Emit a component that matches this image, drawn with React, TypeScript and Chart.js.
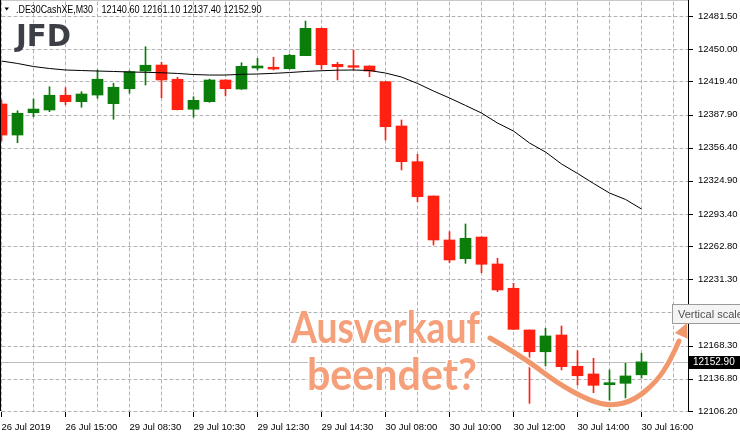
import React, { useEffect, useRef } from 'react';
import { Chart, registerables } from 'chart.js';

Chart.register(...registerables);

// ---- data ----
const opens = [12397.9, 12368.4, 12389.6, 12392.2, 12406.2, 12400.1, 12406.4, 12398.2, 12412.4, 12429.2, 12434.9, 12421.4, 12392.9, 12400.1, 12420.7, 12412.1, 12432.1, 12432.8, 12431.4, 12443.8, 12469.8, 12435.6, 12434.3, 12434.0, 12419.1, 12377.0, 12343.1, 12310.5, 12268.7, 12250.9, 12271.5, 12245.9, 12222.8, 12183.2, 12162.5, 12178.4, 12148.7, 12141.4, 12131.2, 12132.5, 12140.6];
const highs = [12401.7, 12391.5, 12402.6, 12414.3, 12413.4, 12409.6, 12430.2, 12417.6, 12429.5, 12452.3, 12437.5, 12423.3, 12404.8, 12421.5, 12420.9, 12437.1, 12441.3, 12442.3, 12445.1, 12476.7, 12470.1, 12437.5, 12449.2, 12434.2, 12419.3, 12382.7, 12350.1, 12310.5, 12276.6, 12283.9, 12271.6, 12251.3, 12227.5, 12183.2, 12184.8, 12187.0, 12163.5, 12156.3, 12145.2, 12151.5, 12161.1];
const lows = [12362.7, 12361.1, 12385.8, 12390.6, 12397.2, 12394.8, 12403.3, 12383.4, 12408.1, 12415.9, 12403.9, 12392.2, 12385.3, 12399.5, 12405.5, 12411.7, 12430.2, 12430.2, 12431.1, 12443.8, 12430.9, 12420.7, 12430.2, 12423.8, 12363.7, 12335.2, 12305.1, 12263.9, 12247.1, 12246.5, 12237.6, 12219.6, 12183.6, 12113.5, 12149.0, 12145.2, 12130.9, 12123.6, 12107.2, 12115.0, 12137.4];
const closes = [12368.4, 12389.1, 12393.1, 12406.2, 12400.1, 12407.4, 12421.4, 12413.8, 12428.6, 12434.7, 12420.7, 12392.5, 12401.4, 12420.7, 12412.4, 12433.7, 12434.0, 12431.1, 12444.2, 12469.8, 12435.2, 12433.3, 12432.8, 12429.2, 12376.3, 12343.1, 12309.8, 12268.7, 12249.7, 12270.3, 12245.6, 12221.2, 12183.8, 12162.5, 12177.5, 12148.3, 12139.7, 12130.6, 12133.1, 12139.5, 12152.9];
const maValues = [12438.7, 12436.4, 12433.5, 12431.6, 12430.2, 12429.7, 12429.2, 12428.8, 12428.3, 12428.0, 12427.6, 12426.9, 12425.9, 12425.4, 12425.4, 12426.1, 12426.4, 12427.0, 12427.8, 12428.8, 12429.5, 12430.0, 12430.2, 12429.7, 12427.3, 12423.5, 12417.4, 12410.2, 12403.6, 12396.5, 12389.3, 12379.8, 12372.2, 12360.8, 12352.3, 12340.9, 12331.9, 12322.4, 12313.3, 12307.2, 12298.1];
const yTickValues = [12481.5, 12450.0, 12419.4, 12387.9, 12356.4, 12324.9, 12293.4, 12262.8, 12231.3, 12199.8, 12168.3, 12136.8, 12106.2];
const xGridIndices = [0, 2, 4, 6, 8, 10, 12, 14, 16, 18, 20, 22, 24, 26, 28, 30, 32, 34, 36, 38, 40, 42];
const xTickLabels = ['26 Jul 2019', '26 Jul 15:00', '29 Jul 08:30', '29 Jul 10:30', '29 Jul 12:30', '29 Jul 14:30', '30 Jul 08:00', '30 Jul 10:00', '30 Jul 12:00', '30 Jul 14:00', '30 Jul 16:00'];
const bidPrice = 12152.9;
const symbolText = '.DE30CashXE,M30';
const ohlcText = '12140.60 12161.10 12137.40 12152.90';
const annotationLines = ['Ausverkauf', 'beendet?'];

const BULL = '#0b7d0b';
const BEAR = '#fe2010';
const GRID = '#b2b2b2';
const FONT = "'Liberation Sans', Arial, sans-serif";

function fitText(ctx: CanvasRenderingContext2D, text: string, x: number, y: number, width: number, stroke?: boolean) {
  const w = ctx.measureText(text).width;
  ctx.save();
  ctx.translate(x, y);
  ctx.scale(width / w, 1);
  if (stroke) ctx.strokeText(text, 0, 0);
  ctx.fillText(text, 0, 0);
  ctx.restore();
}

const extrasPlugin = {
  id: 'extras',
  afterDraw(chart: any) {
    const ctx: CanvasRenderingContext2D = chart.ctx;
    const area = chart.chartArea;
    const xs = chart.scales.x;
    const ys = chart.scales.y;
    ctx.save();

    // tick marks
    ctx.fillStyle = '#000000';
    xGridIndices.forEach((v) => {
      if (v % 4 !== 0) return;
      const px = Math.floor(xs.getPixelForValue(v));
      ctx.fillRect(px, area.bottom + 1, 1, 5);
    });
    yTickValues.forEach((v) => {
      const py = Math.round(ys.getPixelForValue(v));
      ctx.fillRect(area.right, py, 5, 1);
    });

    // frame
    ctx.fillStyle = '#c8c8c8';
    ctx.fillRect(0, 0, area.right, 1);
    ctx.fillStyle = '#000';
    ctx.fillRect(0, 0, 1, area.bottom);
    ctx.fillRect(area.right, 0, 1, area.bottom + 1);

    // header
    ctx.beginPath();
    ctx.moveTo(4.5, 7.5);
    ctx.lineTo(9, 7.5);
    ctx.lineTo(6.75, 10.5);
    ctx.closePath();
    ctx.fill();
    ctx.font = `11px ${FONT}`;
    ctx.textBaseline = 'alphabetic';
    ctx.textAlign = 'left';
    fitText(ctx, symbolText, 16, 12.5, 77);
    fitText(ctx, ohlcText, 101.5, 12.5, 160);

    // logo
    ctx.fillStyle = '#3c3f46';
    ctx.font = `bold 31px 'DejaVu Sans', sans-serif`;
    fitText(ctx, 'JFD', 16, 46, 55);

    // current price label
    const py = Math.round(ys.getPixelForValue(bidPrice));
    ctx.fillStyle = '#000';
    ctx.fillRect(689, py - 6, 51, 13);
    ctx.fillStyle = '#fff';
    ctx.font = `10px ${FONT}`;
    ctx.textBaseline = 'middle';
    ctx.fillText(bidPrice.toFixed(2), 693, py + 0.5);

    // "Vertical scale" tooltip
    ctx.fillStyle = '#f4f4f4';
    ctx.fillRect(672.5, 304.5, 70, 19);
    ctx.strokeStyle = '#9a9a9a';
    ctx.lineWidth = 1;
    ctx.strokeRect(672.5, 304.5, 70, 19);
    ctx.fillStyle = '#505050';
    ctx.font = `11px ${FONT}`;
    ctx.textBaseline = 'middle';
    ctx.fillText('Vertical scale', 678, 314.5);

    // curved arrow
    const pts = [[490, 338], [523, 357], [557, 383], [590, 401], [612, 406], [635, 400], [657, 381], [670, 361], [679, 341]];
    const drawCurve = () => {
      ctx.beginPath();
      ctx.moveTo(pts[0][0], pts[0][1]);
      for (let i = 1; i < pts.length - 1; i++) {
        const mx = (pts[i][0] + pts[i + 1][0]) / 2;
        const my = (pts[i][1] + pts[i + 1][1]) / 2;
        ctx.quadraticCurveTo(pts[i][0], pts[i][1], mx, my);
      }
      ctx.lineTo(pts[pts.length - 1][0], pts[pts.length - 1][1]);
    };
    ctx.lineCap = 'round';
    ctx.lineJoin = 'round';
    ctx.strokeStyle = 'rgba(255,255,255,0.9)';
    ctx.lineWidth = 8;
    drawCurve();
    ctx.stroke();
    ctx.strokeStyle = '#f1976c';
    ctx.lineWidth = 5;
    drawCurve();
    ctx.stroke();
    const tip = [687, 323];
    const base = [678, 343];
    const ang = Math.atan2(tip[1] - base[1], tip[0] - base[0]);
    const hl = 14, hw = 7;
    const bx = tip[0] - hl * Math.cos(ang), by = tip[1] - hl * Math.sin(ang);
    ctx.fillStyle = '#f1976c';
    ctx.beginPath();
    ctx.moveTo(tip[0], tip[1]);
    ctx.lineTo(bx + hw * Math.sin(ang), by - hw * Math.cos(ang));
    ctx.lineTo(bx - hw * Math.sin(ang), by + hw * Math.cos(ang));
    ctx.closePath();
    ctx.fill();

    // annotation text
    ctx.textBaseline = 'alphabetic';
    ctx.font = `bold 44px Lato, 'Open Sans', sans-serif`;
    ctx.lineWidth = 3;
    ctx.strokeStyle = '#ffffff';
    ctx.fillStyle = '#f5a07a';
    fitText(ctx, annotationLines[0], 291, 343, 189, true);
    fitText(ctx, annotationLines[1], 307, 390, 170, true);

    // background layers painted underneath everything drawn so far
    ctx.globalCompositeOperation = 'destination-over';
    ctx.fillStyle = '#bcbcbc';
    ctx.fillRect(area.left, py, area.right - area.left, 1);
    ctx.strokeStyle = GRID;
    ctx.lineWidth = 1;
    ctx.setLineDash([3, 3]);
    ctx.beginPath();
    xGridIndices.forEach((v) => {
      const px = Math.floor(xs.getPixelForValue(v)) + 0.5;
      ctx.moveTo(px, area.top + 2);
      ctx.lineTo(px, area.bottom);
    });
    yTickValues.forEach((v) => {
      const gy = Math.round(ys.getPixelForValue(v)) + 0.5;
      ctx.moveTo(area.left + 2, gy);
      ctx.lineTo(area.right, gy);
    });
    ctx.stroke();
    ctx.setLineDash([]);
    ctx.fillStyle = '#ffffff';
    ctx.fillRect(0, 0, chart.width, chart.height);
    ctx.restore();
  },
};

export default function App() {
  const canvasRef = useRef<HTMLCanvasElement | null>(null);

  useEffect(() => {
    if (!canvasRef.current) return;
    const idx = opens.map((_, i) => i);
    const colors = idx.map((i) => (closes[i] >= opens[i] ? BULL : BEAR));
    const chart = new Chart(canvasRef.current, {
      type: 'bar',
      data: {
        datasets: [
          {
            type: 'line',
            label: 'MA',
            data: idx.map((i) => ({ x: i, y: maValues[i] })),
            borderColor: '#000',
            borderWidth: 1,
            pointRadius: 0,
            tension: 0,
            fill: false,
            order: 0,
          } as any,
          {
            label: 'Body',
            data: idx.map((i) => ({ x: i, y: [opens[i], closes[i]] })),
            backgroundColor: colors,
            borderWidth: 0,
            barThickness: 11,
            grouped: false,
            order: 1,
          } as any,
          {
            label: 'Wick',
            data: idx.map((i) => ({ x: i, y: [lows[i], highs[i]] })),
            backgroundColor: colors,
            borderWidth: 0,
            barThickness: 1,
            grouped: false,
            order: 2,
          } as any,
        ],
      },
      options: {
        animation: false,
        responsive: false,
        maintainAspectRatio: false,
        layout: { padding: 0 },
        plugins: { legend: { display: false }, tooltip: { enabled: false } },
        scales: {
          x: {
            type: 'linear',
            offset: false,
            min: -1.5 / 16,
            max: 42 + 14.5 / 16,
            afterBuildTicks: (scale: any) => {
              scale.ticks = xGridIndices.map((v) => ({ value: v }));
            },
            afterFit: (scale: any) => {
              scale.height = 21;
              scale.paddingLeft = 0;
              scale.paddingRight = 0;
            },
            grid: { offset: false, display: false, tickLength: 5 },
            border: { display: false },
            ticks: {
              autoSkip: false,
              maxRotation: 0,
              minRotation: 0,
              align: 'start',
              padding: 6,
              color: '#000',
              font: { family: FONT, size: 9.5 },
              callback: (v: any) => (v % 4 === 0 ? xTickLabels[v / 4] ?? '' : ''),
            },
          },
          y: {
            type: 'linear',
            position: 'right',
            min: 12106.2,
            max: 12106.2 + 411 / 1.0525,
            afterBuildTicks: (scale: any) => {
              scale.ticks = yTickValues.map((v) => ({ value: v }));
            },
            afterFit: (scale: any) => {
              scale.width = 52;
              scale.paddingTop = 0;
              scale.paddingBottom = 0;
            },
            grid: { display: false, tickLength: 4 },
            border: { display: false },
            ticks: {
              autoSkip: false,
              padding: 6,
              color: '#000',
              font: { family: FONT, size: 9.5 },
              callback: (v: any) => Number(v).toFixed(2),
            },
          },
        },
      } as any,
      plugins: [extrasPlugin],
    });
    return () => chart.destroy();
  }, []);

  return (
    <div style={{ position: 'fixed', left: 0, top: 0, width: 740, height: 432, background: '#fff' }}>
      <canvas ref={canvasRef} width={740} height={432} style={{ display: 'block', width: 740, height: 432 }} />
    </div>
  );
}
